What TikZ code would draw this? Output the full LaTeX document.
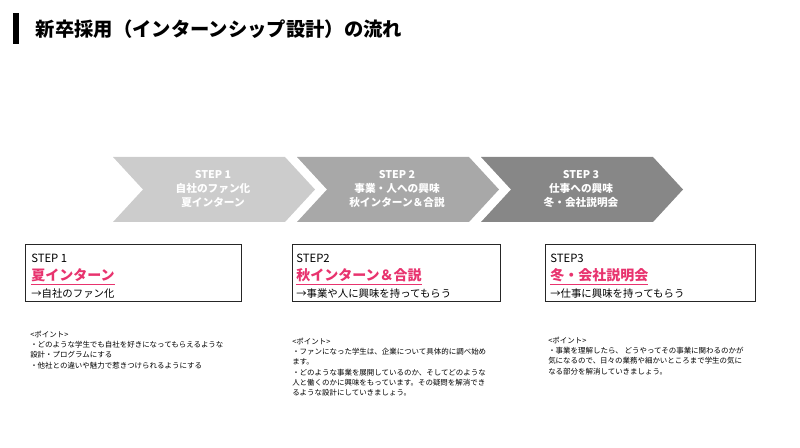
\documentclass[tikz,border=0pt]{standalone}
\usepackage{fontspec}
\setmainfont{Noto Sans CJK JP}
\usepackage{tikz}
\usetikzlibrary{positioning}
\definecolor{stepone}{HTML}{CCCCCC}
\definecolor{steptwo}{HTML}{A8A8A8}
\definecolor{stepthree}{HTML}{878787}
\definecolor{accent}{HTML}{E8336E}
\newcommand{\chev}[2]{\fill[#2] (#1,157) -- ++(172,0) -- ++(30,32.5) -- ++(-30,32.5) -- ++(-172,0) -- ++(30,-32.5) -- cycle;}

\begin{document}
\begin{tikzpicture}[x=0.75pt,y=-0.75pt,
    chev text/.style={text=white,font=\fontsize{8}{10.5}\selectfont\bfseries,align=center},
    step box/.style={draw=black!85,semithick,minimum width=216*0.75pt,minimum height=57*0.75pt,inner sep=0pt},
    point text/.style={font=\fontsize{5.6}{7.6}\selectfont,align=left,anchor=north west,inner sep=0pt}]
  \useasboundingbox (0,0) rectangle (800,448);
  % title
  \fill (13,13) rectangle (19,44);
  \node[anchor=west,font=\fontsize{14.5}{16}\selectfont\bfseries] (title) at (31,29) {新卒採用（インターンシップ設計）の流れ};
  % chevrons
  \chev{113}{stepone}
  \chev{297}{steptwo}
  \chev{481}{stepthree}
  \node[chev text] (c1) at (213,189) {STEP 1\\自社のファン化\\夏インターン};
  \node[chev text] (c2) at (397,189) {STEP 2\\事業・人への興味\\秋インターン＆合説};
  \node[chev text] (c3) at (581,189) {STEP 3\\仕事への興味\\冬・会社説明会};
  % boxes
  \node[step box] (b1) at (133.5,272.5) {};
  \node[step box,minimum width=208*0.75pt] (b2) at (396,272.5) {};
  \node[step box,minimum width=210*0.75pt] (b3) at (650,272.5) {};
  \foreach \b/\s/\t/\u/\x in {b1/STEP 1/夏インターン/自社のファン化/31,
                            b2/STEP2/秋インターン＆合説/事業や人に興味を持ってもらう/296,
                            b3/STEP3/冬・会社説明会/仕事に興味を持ってもらう/550}{
    \node[anchor=west,inner sep=0pt,font=\fontsize{8.5}{10}\selectfont] at (\x,258) {\s};
    \node[anchor=west,inner sep=0pt,text=accent,font=\fontsize{10.5}{12}\selectfont\bfseries] at (\x,277) {\underline{\t}};
    \node[anchor=west,inner sep=0pt,font=\fontsize{7.8}{9}\selectfont] at (\x,294) {→\u};
  }
  % points
  \node[point text] (p1) at (30,331) {<ポイント>\\・どのような学生でも自社を好きになってもらえるような\\設計・プログラムにする\\・他社との違いや魅力で惹きつけられるようにする};
  \node[point text] (p2) at (292,338) {<ポイント>\\・ファンになった学生は、企業について具体的に調べ始め\\ます。\\・どのような事業を展開しているのか、そしてどのような\\人と働くのかに興味をもっています。その疑問を解消でき\\るような設計にしていきましょう。};
  \node[point text] (p3) at (548,337) {<ポイント>\\・事業を理解したら、 どうやってその事業に関わるのかが\\気になるので、日々の業務や細かいところまで学生の気に\\なる部分を解消していきましょう。};
\end{tikzpicture}
\end{document}
